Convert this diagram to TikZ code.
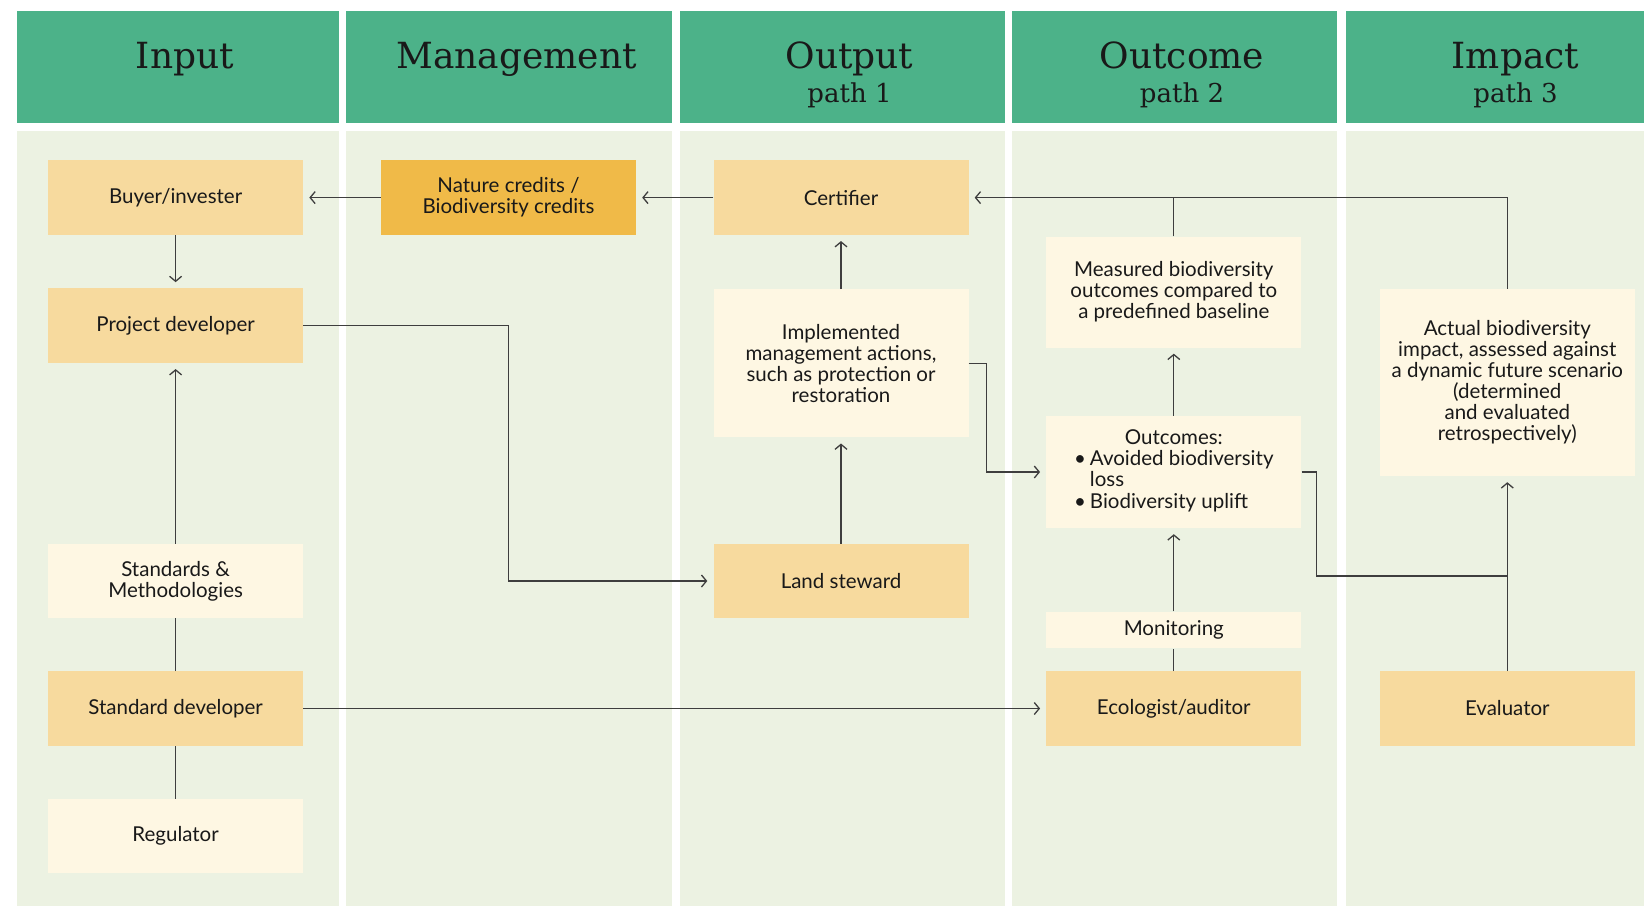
\documentclass[tikz,border=0pt]{standalone}
\usepackage{fontspec}
\setmainfont{Lato}
\newfontfamily\headfont{DejaVu Serif}
\usetikzlibrary{arrows.meta}
\definecolor{hgreen}{RGB}{76,178,137}
\definecolor{bgreen}{RGB}{236,242,226}
\definecolor{ybox}{RGB}{247,218,158}
\definecolor{gbox}{RGB}{240,186,72}
\definecolor{cbox}{RGB}{254,247,227}
\definecolor{lc}{RGB}{62,62,62}
\definecolor{tc}{RGB}{25,25,25}
\begin{document}
\begin{tikzpicture}[x=1pt,y=-1pt,
  box/.style={minimum width=255pt, inner sep=0pt, align=center, text=tc,
    font=\fontsize{20.5}{21}\selectfont},
  ybx/.style={box, fill=ybox, minimum height=74.5pt},
  gbx/.style={box, fill=gbox, minimum height=74.5pt},
  cbx/.style={box, fill=cbox},
  conn/.style={draw=lc, line width=1.3pt},
  arr/.style={conn, -{Straight Barb[length=5pt,width=12pt,line width=1.3pt]}, shorten >=6pt},
  htitle/.style={anchor=base, text=tc, font=\headfont\fontsize{36}{40}\selectfont},
  hsub/.style={anchor=base, text=tc, font=\headfont\fontsize{26}{30}\selectfont}
]
\useasboundingbox (0,0) rectangle (1644,906);
\fill[white] (0,0) rectangle (1644,906);
% columns
\foreach \a/\b in {17/339, 346/672, 679.5/1004.5, 1012/1337, 1345.5/1644}{
  \fill[hgreen] (\a,11) rectangle (\b,123);
  \fill[bgreen] (\a,131) rectangle (\b,906);
}
% headers
\node[htitle] (hin) at (185,68.3) {Input};
\node[htitle] (hman) at (516.5,68.3) {Management};
\node[htitle] (hout) at (849.5,68.3) {Output};
\node[hsub] (hout2) at (849.5,102.5) {path 1};
\node[htitle] (hoc) at (1182,68.3) {Outcome};
\node[hsub] (hoc2) at (1182,102.5) {path 2};
\node[htitle] (himp) at (1515.5,68.3) {Impact};
\node[hsub] (himp2) at (1515.5,102.5) {path 3};
% boxes
\node[ybx] (buyer) at (175.6,197.6) {Buyer/invester};
\node[gbx] (nature) at (508.5,197.6) {Nature credits /\\Biodiversity credits};
\node[ybx] (cert) at (841,197.6) {Certifier};
\node[ybx] (proj) at (175.6,325.6) {Project developer};
\node[cbx, minimum height=148pt] (impl) at (841,363.3) {Implemented\\management actions,\\such as protection or\\restoration};
\node[cbx, minimum height=111pt] (meas) at (1173.8,292) {Measured biodiversity\\outcomes compared to\\a predefined baseline};
\node[cbx, minimum height=112pt] (outc) at (1173.8,472) {\begin{tabular}{@{}l@{\hspace{4pt}}l@{}}\multicolumn{2}{c}{Outcomes:}\\ \textbullet & Avoided biodiversity\\ & loss\\ \textbullet & Biodiversity uplift\end{tabular}};
\node[cbx, minimum height=187pt] (act) at (1507.3,382.5) {Actual biodiversity\\impact, assessed against\\a dynamic future scenario\\(determined\\and evaluated\\retrospectively)};
\node[cbx, minimum height=74.5pt] (stdm) at (175.6,581) {Standards \&\\Methodologies};
\node[ybx] (land) at (841,581) {Land steward};
\node[cbx, minimum height=36.7pt] (mon) at (1173.8,630) {Monitoring};
\node[ybx] (stdd) at (175.6,708.5) {Standard developer};
\node[ybx] (eco) at (1173.8,708.5) {Ecologist/auditor};
\node[ybx] (eval) at (1507.3,708.5) {Evaluator};
\node[cbx, minimum height=74.5pt] (reg) at (175.6,836) {Regulator};
% connectors
\coordinate (j1) at (1507.3,576);
\draw[arr] (nature.west) -- (buyer.east);
\draw[arr] (cert.west) -- (nature.east);
\draw[arr] (buyer.south) -- (proj.north);
\draw[arr] (stdm.north) -- (proj.south);
\draw[conn] (stdd.north) -- (stdm.south);
\draw[conn] (reg.north) -- (stdd.south);
\draw[arr] (proj.east) -- (proj.east -| nature.center) |- (land.west);
\draw[arr] (land.north) -- (impl.south);
\draw[arr] (impl.north) -- (cert.south);
\draw[arr] (impl.east) -- ++(17.5,0) |- (outc.west);
\draw[arr] (outc.north) -- (meas.south);
\draw[arr] (mon.north) -- (outc.south);
\draw[conn] (eco.north) -- (mon.south);
\draw[arr] (stdd.east) -- (eco.west);
\draw[arr] (eval.north) -- (act.south);
\draw[conn] (outc.east) -- ++(15,0) |- (j1);
\draw[arr] (act.north) |- (cert.east);
\draw[conn] (meas.north) -- (meas.north |- cert.east);
\end{tikzpicture}
\end{document}
